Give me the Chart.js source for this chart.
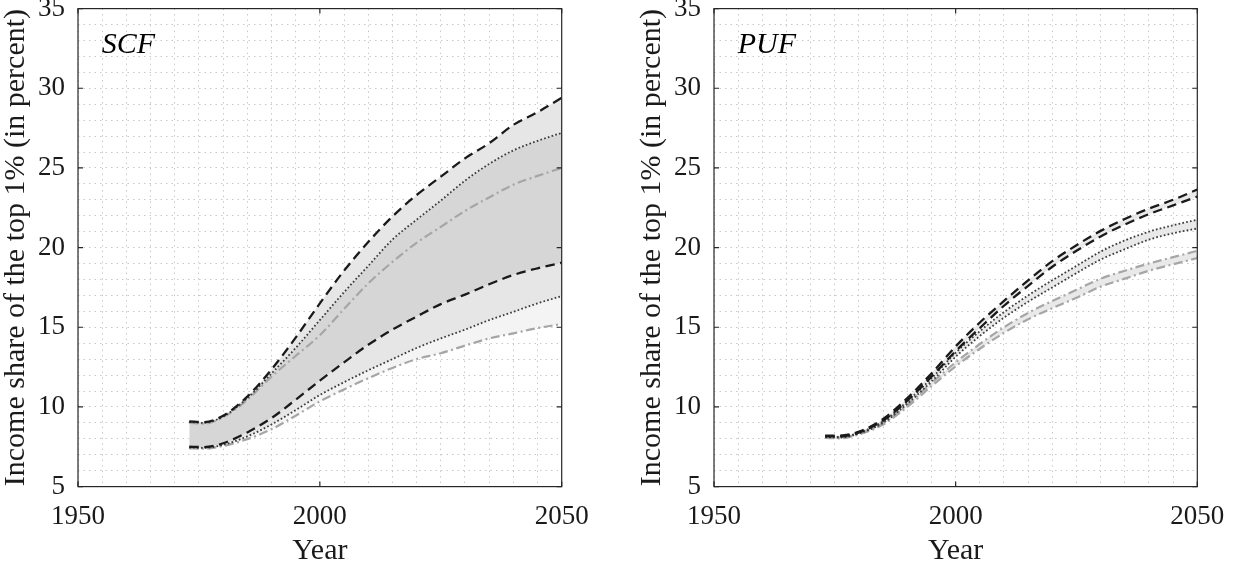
<!DOCTYPE html>
<html><head><meta charset="utf-8">
<script src="https://cdn.jsdelivr.net/npm/chart.js@4.4.1/dist/chart.umd.min.js"></script>
<style>
html,body{margin:0;padding:0;background:#fff;}
#wrap{position:relative;width:1237px;height:569px;overflow:hidden;}
canvas{position:absolute;top:0;}
</style></head><body>
<div id="wrap">
<canvas id="c1" width="618" height="569" style="left:0;width:618px;height:569px"></canvas>
<canvas id="c2" width="619" height="569" style="left:618px;width:619px;height:569px"></canvas>
</div>
<script>
// ---- data ----
const years = [1973,1976,1980,1985,1990,1995,2000,2005,2010,2015,2020,2025,2030,2035,2040,2045,2050];

const scfDashedHi  = [9.1,9.05,9.45,10.65,12.35,14.35,16.5,18.55,20.35,21.95,23.3,24.45,25.6,26.55,27.7,28.5,29.4];
const scfDottedHi  = [9.05,9.0,9.4,10.55,12.1,13.7,15.45,17.2,18.85,20.5,21.75,22.95,24.2,25.25,26.1,26.7,27.2];
const scfDashDotHi = [9.0,8.95,9.35,10.45,11.9,13.2,14.5,16.15,17.75,19.1,20.3,21.3,22.3,23.15,23.95,24.5,25.0];
const scfDashedLo  = [7.5,7.48,7.72,8.4,9.3,10.45,11.65,12.8,13.9,14.85,15.67,16.45,17.05,17.7,18.28,18.7,19.05];
const scfDottedLo  = [7.45,7.43,7.62,8.15,8.9,9.8,10.75,11.55,12.3,13.0,13.7,14.3,14.85,15.45,15.97,16.5,16.96];
const scfDashDotLo = [7.4,7.38,7.55,7.98,8.6,9.45,10.35,11.1,11.8,12.45,13.0,13.37,13.85,14.3,14.62,14.95,15.2];

const pufDashedHi  = [8.2,8.2,8.45,9.25,10.55,12.1,13.8,15.3,16.65,17.95,19.15,20.15,21.05,21.8,22.45,23.0,23.65];
const pufDashedLo  = [8.15,8.15,8.4,9.15,10.4,11.9,13.5,14.95,16.35,17.6,18.8,19.8,20.7,21.45,22.1,22.65,23.2];
const pufDottedHi  = [8.15,8.12,8.38,9.1,10.35,11.8,13.4,14.75,15.95,17.0,17.95,18.85,19.75,20.45,21.0,21.4,21.75];
const pufDottedLo  = [8.1,8.08,8.33,9.0,10.2,11.6,13.15,14.45,15.6,16.6,17.5,18.4,19.25,19.9,20.5,20.9,21.2];
const pufDashDotHi = [8.1,8.08,8.32,9.0,10.15,11.5,12.8,13.95,15.0,15.9,16.65,17.35,18.05,18.55,19.0,19.4,19.8];
const pufDashDotLo = [8.05,8.03,8.28,8.9,10.0,11.3,12.55,13.65,14.65,15.5,16.2,16.85,17.55,18.05,18.55,18.95,19.35];

const xTickLabels = [1950, 2000, 2050];
const yTickLabels = [5, 10, 15, 20, 25, 30, 35];
const panelNames = ['SCF', 'PUF'];
const xTitle = 'Year';
const yTitle = 'Income share of the top 1% (in percent)';

// ---- styles ----
const FONT = '"Liberation Serif", "Times New Roman", serif';
const TXT = '#1a1a1a';
const STY = {
  dashed:   {borderColor:'#1a1a1a', borderWidth:2.3, borderDash:[9.5,5.5]},
  dotted:   {borderColor:'#3c3c3c', borderWidth:1.8, borderDash:[1.7,2.2]},
  dashdot:  {borderColor:'#a6a6a6', borderWidth:2.2, borderDash:[9,3.5,2,3.5]}
};

function pts(arr){ return years.map((yr,i)=>({x:yr, y:arr[i]})); }

function ds(arr, style, fillTarget, fillColor){
  return Object.assign({
    data: pts(arr), pointRadius:0, pointHoverRadius:0,
    cubicInterpolationMode:'monotone',
    fill: fillTarget === null ? false : {target: fillTarget},
    backgroundColor: fillColor || 'transparent'
  }, style);
}

const framePlugin = {
  id:'frame',
  afterDraw(chart, args, opts){
    const {ctx, chartArea:a, scales:{x, y}} = chart;
    ctx.save();
    ctx.strokeStyle = '#262626';
    ctx.lineWidth = 1.2;
    ctx.setLineDash([]);
    ctx.strokeRect(a.left, a.top, a.right - a.left, a.bottom - a.top);
    const tl = 5;
    ctx.beginPath();
    xTickLabels.forEach(v=>{
      const px = x.getPixelForValue(v);
      ctx.moveTo(px, a.bottom); ctx.lineTo(px, a.bottom - tl);
      ctx.moveTo(px, a.top); ctx.lineTo(px, a.top + tl);
    });
    yTickLabels.forEach(v=>{
      const py = y.getPixelForValue(v);
      ctx.moveTo(a.left, py); ctx.lineTo(a.left + tl, py);
      ctx.moveTo(a.right, py); ctx.lineTo(a.right - tl, py);
    });
    ctx.stroke();
    ctx.fillStyle = '#000';
    ctx.font = 'italic 30px ' + FONT;
    ctx.textBaseline = 'alphabetic';
    ctx.textAlign = 'left';
    ctx.fillText(opts.label, x.getPixelForValue(opts.lx), y.getPixelForValue(opts.ly));
    ctx.restore();
  }
};

function makeChart(id, datasets, label, yAxisWidth, padRight, yTitlePad){
  return new Chart(document.getElementById(id), {
    type:'line',
    data:{datasets},
    plugins:[framePlugin],
    options:{
      responsive:false, animation:false, devicePixelRatio:1,
      layout:{padding:{left:0, right:padRight, top:8.6, bottom:0}},
      plugins:{
        legend:{display:false}, tooltip:{enabled:false},
        filler:{drawTime:'beforeDatasetsDraw'},
        frame:{label, lx:1954.9, ly:32.2}
      },
      scales:{
        x:{
          type:'linear', min:1950, max:2050,
          ticks:{stepSize:5, autoSkip:false, maxRotation:0, minRotation:0, padding:14,
                 font:{family:FONT, size:27}, color:TXT,
                 callback:v=> xTickLabels.includes(v) ? String(v) : ''},
          grid:{color:'#c9c9c9', lineWidth:1, drawTicks:false},
          border:{display:false, dash:[1.5,4]},
          title:{display:true, text:xTitle, color:TXT, font:{family:FONT, size:30, lineHeight:1}, padding:{top:0, bottom:2.6}},
          afterFit(s){ s.height = 82.4; s.paddingLeft = 0; s.paddingRight = 0; }
        },
        y:{
          type:'linear', min:5, max:35,
          ticks:{stepSize:1, autoSkip:false, padding:13,
                 font:{family:FONT, size:27}, color:TXT,
                 callback:v=> yTickLabels.includes(v) ? String(v) : ''},
          grid:{color:'#c9c9c9', lineWidth:1, drawTicks:false},
          border:{display:false, dash:[1.5,4]},
          title:{display:true, text:yTitle, color:TXT, font:{family:FONT, size:30, lineHeight:1}, padding:{top:yTitlePad, bottom:0}},
          afterFit(s){ s.width = yAxisWidth; s.paddingTop = 0; s.paddingBottom = 0; }
        }
      }
    }
  });
}

const scfSets = [
  ds(scfDashedHi,  STY.dashed,  1, '#e6e6e6'),
  ds(scfDottedHi,  STY.dotted,  3, '#d6d6d6'),
  ds(scfDashDotHi, STY.dashdot, null),
  ds(scfDashedLo,  STY.dashed,  4, '#e6e6e6'),
  ds(scfDottedLo,  STY.dotted,  5, '#f4f4f4'),
  ds(scfDashDotLo, STY.dashdot, null)
];
const pufSets = [
  ds(pufDashedHi,  STY.dashed,  1, '#e9e9e9'),
  ds(pufDashedLo,  STY.dashed,  null),
  ds(pufDottedHi,  STY.dotted,  3, '#e9e9e9'),
  ds(pufDottedLo,  STY.dotted,  null),
  ds(pufDashDotHi, STY.dashdot, 5, '#e9e9e9'),
  ds(pufDashDotLo, STY.dashdot, null)
];

makeChart('c1', scfSets, panelNames[0], 78, 56.3, 1.6);
makeChart('c2', pufSets, panelNames[1], 96, 39.7, 19.6);
</script>
</body></html>
